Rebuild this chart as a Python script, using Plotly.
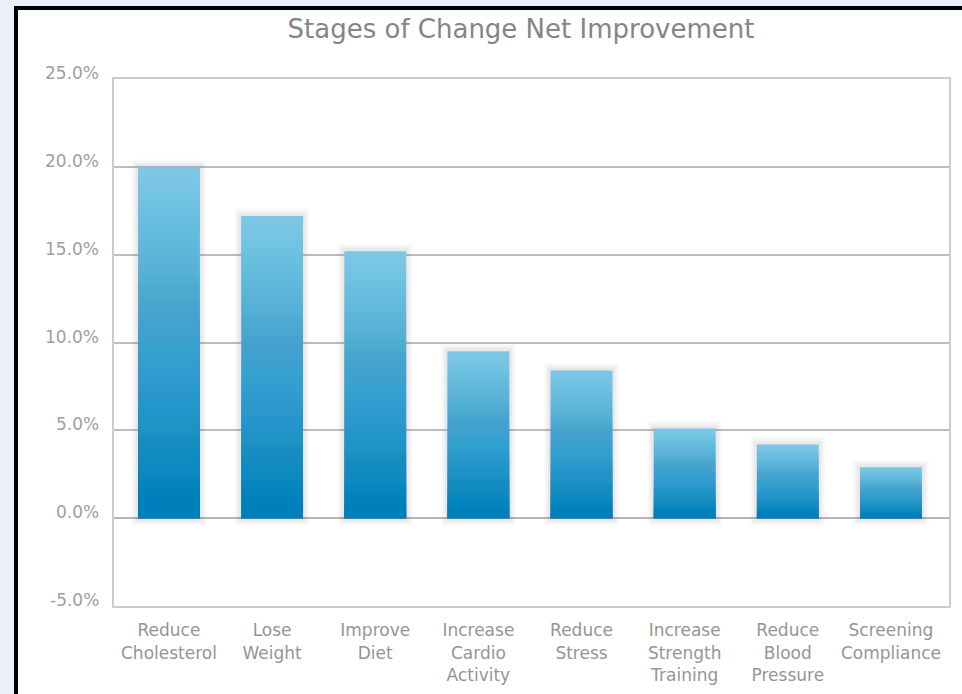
import plotly.graph_objects as go

# Net improvement per health goal (percent of participants)
categories = [
    "Reduce<br>Cholesterol",
    "Lose<br>Weight",
    "Improve<br>Diet",
    "Increase<br>Cardio<br>Activity",
    "Reduce<br>Stress",
    "Increase<br>Strength<br>Training",
    "Reduce<br>Blood<br>Pressure",
    "Screening<br>Compliance",
]
net_improvement = [20.0, 17.2, 15.2, 9.5, 8.4, 5.1, 4.2, 2.9]

y_tick_values = [-5, 0, 5, 10, 15, 20, 25]
y_tick_labels = ["-5.0%", "0.0%", "5.0%", "10.0%", "15.0%", "20.0%", "25.0%"]

FONT = "DejaVu Sans"
x = list(range(len(categories)))
BAR_W = 0.6

fig = go.Figure()

# soft glow behind each bar
for grow, lift, alpha in [(0.13, 0.42, 0.035), (0.09, 0.30, 0.05), (0.05, 0.16, 0.07)]:
    fig.add_trace(go.Bar(
        x=x, y=[v + 2 * lift for v in net_improvement], base=-lift,
        width=BAR_W + grow,
        marker=dict(color=f"rgba(115,105,105,{alpha})", line_width=0),
        hoverinfo="skip", showlegend=False,
    ))

# light top colour of the bars
fig.add_trace(go.Bar(
    x=x, y=net_improvement, width=BAR_W,
    marker=dict(color="rgb(128,200,230)", line_width=0),
    hovertemplate="%{y:.1f}%<extra></extra>", showlegend=False,
))

# stacked translucent layers darken each bar towards its base (linear gradient)
N = 48
w_end = 0.07
weights = [1 - (1 - w_end) * m / N for m in range(N + 1)]
for j in range(1, N + 1):
    m = N - j + 1
    a = 1 - weights[m] / weights[m - 1]
    fig.add_trace(go.Bar(
        x=x, y=[v * j / N for v in net_improvement], width=BAR_W,
        marker=dict(color=f"rgba(0,128,194,{a:.4f})", line_width=0),
        hoverinfo="skip", showlegend=False,
    ))

# white card with dark frame
L, R, T, B = 114, 13, 79, 88
W, H = 962, 694
pw, ph = W - L - R, H - T - B
fig.add_shape(
    type="rect", xref="paper", yref="paper",
    x0=(16 - L) / pw, x1=1.1, y0=-0.4, y1=(H - B - 8) / ph,
    line=dict(color="black", width=4), fillcolor="white", layer="below",
)

# y tick labels, set slightly above their grid lines
for v, t in zip(y_tick_values, y_tick_labels):
    fig.add_annotation(
        x=0, xref="paper", y=v, yref="y", text=t, showarrow=False,
        xanchor="right", yanchor="middle", xshift=-13, yshift=6,
        font=dict(family=FONT, size=17, color="#a0a0a0"),
    )

fig.update_layout(
    width=W, height=H,
    margin=dict(l=L, r=R, t=T, b=B),
    paper_bgcolor="#eaf1fa",
    plot_bgcolor="white",
    barmode="overlay",
    bargap=0.4,
    title=dict(
        text="Stages of Change Net Improvement",
        x=521 / W, xref="container", xanchor="center",
        y=1 - 29 / H, yref="container", yanchor="middle",
        font=dict(family=FONT, size=26, color="#858585"),
    ),
    xaxis=dict(
        tickmode="array", tickvals=x, ticktext=categories,
        range=[-0.533, 7.563],
        showgrid=False, showline=True, mirror=True,
        linecolor="#cccccc", linewidth=2,
        ticks="outside", ticklen=8, tickcolor="rgba(0,0,0,0)",
        tickfont=dict(family=FONT, size=17, color="#959595"),
        automargin=False,
        fixedrange=True,
    ),
    yaxis=dict(
        range=[-5, 25], tickmode="array", tickvals=y_tick_values,
        showticklabels=False,
        showgrid=True, gridcolor="#bdbdbd", gridwidth=2,
        zeroline=True, zerolinecolor="#b5b5b5", zerolinewidth=2,
        showline=True, mirror=True, linecolor="#cccccc", linewidth=2,
        automargin=False,
        fixedrange=True,
    ),
)

fig.write_html("out.html")
